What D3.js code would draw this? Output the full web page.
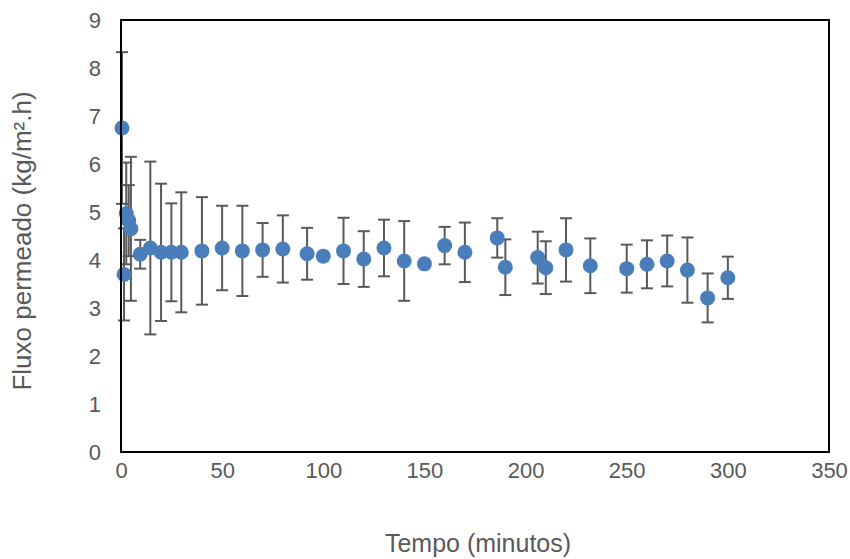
<!DOCTYPE html>
<html>
<head>
<meta charset="utf-8">
<script src="https://cdn.jsdelivr.net/npm/d3@7"></script>
<style>
  html, body { margin: 0; padding: 0; background: #ffffff; }
  svg { display: block; }
</style>
</head>
<body>
<svg id="chart" width="850" height="559"></svg>
<script>
// ---- data ----
const times = [0.5, 1.5, 2.6, 3.8, 4.9, 9.5, 14.5, 19.8, 24.9, 29.8, 40, 50, 60, 70, 80, 92, 100, 110, 120, 130, 140, 150, 160, 170, 186, 190, 206, 210, 220, 232, 250, 260, 270, 280, 290, 300];
const fluxValues = [6.75, 3.70, 4.97, 4.82, 4.65, 4.12, 4.25, 4.16, 4.16, 4.16, 4.19, 4.25, 4.19, 4.21, 4.23, 4.13, 4.08, 4.19, 4.02, 4.25, 3.98, 3.92, 4.30, 4.16, 4.46, 3.85, 4.05, 3.84, 4.21, 3.88, 3.82, 3.91, 3.98, 3.79, 3.21, 3.63];
const fluxErrors = [1.58, 0.96, 1.06, 0.74, 1.50, 0.30, 1.80, 1.43, 1.02, 1.25, 1.12, 0.88, 0.94, 0.56, 0.70, 0.54, 0, 0.69, 0.58, 0.59, 0.83, 0, 0.39, 0.62, 0.41, 0.58, 0.54, 0.55, 0.66, 0.57, 0.50, 0.50, 0.53, 0.68, 0.51, 0.44];
const xTicks = [0, 50, 100, 150, 200, 250, 300, 350];
const yTicks = [0, 1, 2, 3, 4, 5, 6, 7, 8, 9];
const xTitle = "Tempo (minutos)";
const yTitle = "Fluxo permeado (kg/m².h)";

const points = times.map((t, i) => ({ t, v: fluxValues[i], e: fluxErrors[i] }));

// ---- layout ----
const mLeft = 121, mRight = 829, mTop = 20, mBottom = 452;
const svg = d3.select("#chart");
const x = d3.scaleLinear().domain([0, 350]).range([mLeft, mRight]);
const y = d3.scaleLinear().domain([0, 9]).range([mBottom, mTop]);

const font = "'Liberation Sans', Arial, sans-serif";
const textColor = "#595959";

// axes (labels only)
const xAxis = svg.append("g")
  .attr("transform", `translate(0,${mBottom})`)
  .call(d3.axisBottom(x).tickValues(xTicks).tickSize(0).tickPadding(10));
xAxis.select(".domain").remove();
xAxis.selectAll("text").attr("font-family", font).attr("font-size", 22).attr("fill", textColor);

const yAxis = svg.append("g")
  .attr("transform", `translate(${mLeft},0)`)
  .call(d3.axisLeft(y).tickValues(yTicks).tickSize(0).tickPadding(20));
yAxis.select(".domain").remove();
yAxis.selectAll("text").attr("font-family", font).attr("font-size", 22).attr("fill", textColor);

// error bars
const cap = 6;
const eb = svg.append("g").attr("stroke", "#595959").attr("stroke-width", 2).attr("fill", "none");
points.filter(d => d.e > 0).forEach(d => {
  const cx = x(d.t);
  eb.append("line").attr("x1", cx).attr("x2", cx).attr("y1", y(d.v + d.e)).attr("y2", y(d.v - d.e));
  eb.append("line").attr("x1", cx - cap).attr("x2", cx + cap).attr("y1", y(d.v + d.e)).attr("y2", y(d.v + d.e));
  eb.append("line").attr("x1", cx - cap).attr("x2", cx + cap).attr("y1", y(d.v - d.e)).attr("y2", y(d.v - d.e));
});

// points
svg.append("g").selectAll("circle").data(points).join("circle")
  .attr("cx", d => x(d.t)).attr("cy", d => y(d.v)).attr("r", 7.5)
  .attr("fill", "#4a7ebb");

// plot border
svg.append("rect")
  .attr("x", mLeft).attr("y", mTop).attr("width", mRight - mLeft).attr("height", mBottom - mTop)
  .attr("fill", "none").attr("stroke", "#000").attr("stroke-width", 2);

// titles
svg.append("text").attr("x", 478).attr("y", 552)
  .attr("text-anchor", "middle").attr("font-family", font).attr("font-size", 25).attr("fill", textColor)
  .text(xTitle);
svg.append("text")
  .attr("transform", `translate(31,241) rotate(-90)`)
  .attr("text-anchor", "middle").attr("font-family", font).attr("font-size", 26).attr("fill", textColor)
  .text(yTitle);
</script>
</body>
</html>
